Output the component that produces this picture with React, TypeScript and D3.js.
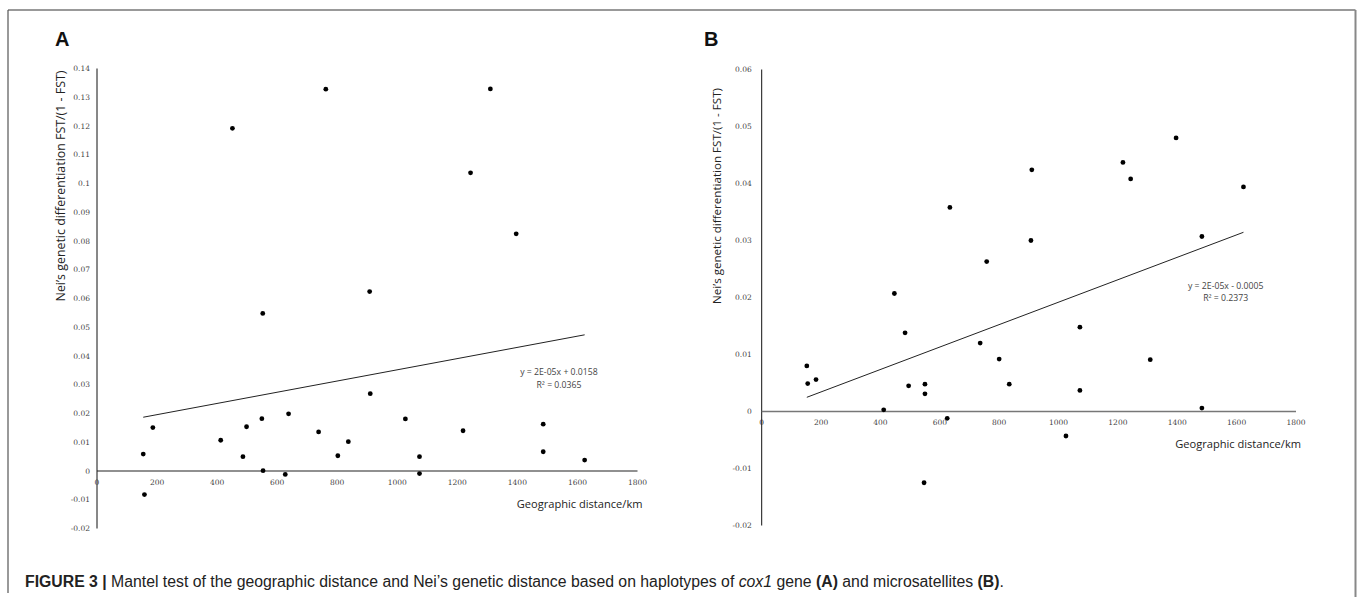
import React from "react";
import * as d3 from "d3";

// Panel A: cox1 haplotypes
const distA = [154, 158, 186, 412, 451, 486, 498, 549, 552, 553, 627, 638, 738, 762, 802, 837, 908, 910, 1027, 1074, 1074, 1219, 1244, 1310, 1396, 1486, 1486, 1624];
const fstA = [0.0059, -0.0082, 0.0151, 0.0107, 0.1192, 0.0050, 0.0154, 0.0182, 0.0548, 0.0001, -0.0012, 0.0199, 0.0136, 0.1328, 0.0053, 0.0102, 0.0624, 0.0269, 0.0181, 0.0050, -0.0009, 0.0140, 0.1037, 0.1329, 0.0825, 0.0163, 0.0067, 0.0038];
const trendA = { slope: 1.95e-5, intercept: 0.0157 };
const eqA = ["y = 2E-05x + 0.0158", "R² = 0.0365"];
const yTicksA = [0.14, 0.13, 0.12, 0.11, 0.1, 0.09, 0.08, 0.07, 0.06, 0.05, 0.04, 0.03, 0.02, 0.01, 0, -0.01, -0.02];

// Panel B: microsatellites
const distB = [152, 155, 183, 411, 447, 483, 495, 547, 550, 550, 625, 634, 736, 758, 800, 834, 907, 910, 1025, 1072, 1072, 1217, 1243, 1309, 1396, 1483, 1483, 1623];
const fstB = [0.0080, 0.0049, 0.0056, 0.0003, 0.0207, 0.0138, 0.0045, -0.0125, 0.0048, 0.0031, -0.0012, 0.0358, 0.0120, 0.0263, 0.0092, 0.0048, 0.0300, 0.0424, -0.0043, 0.0148, 0.0037, 0.0437, 0.0408, 0.0091, 0.0480, 0.0307, 0.0006, 0.0394];
const trendB = { slope: 1.968e-5, intercept: -0.0005 };
const eqB = ["y = 2E-05x - 0.0005", "R² = 0.2373"];
const yTicksB = [0.06, 0.05, 0.04, 0.03, 0.02, 0.01, 0, -0.01, -0.02];

const xTicks = [0, 200, 400, 600, 800, 1000, 1200, 1400, 1600, 1800];
const yLabel = "Nei’s genetic differentiation FST/(1 - FST)";
const xLabel = "Geographic distance/km";

type PanelProps = {
  letter: string;
  dist: number[];
  fst: number[];
  trend: { slope: number; intercept: number };
  eq: string[];
  yTicks: number[];
  xRange: [number, number];
  yRange: [number, number];
  yDomain: [number, number];
  letterX: number;
  yLabelX: number;
  yLabelY: number;
  yLabelSize: number;
  eqX: number;
  eqY: number;
  tickGap: number;
  xAxisColor: string;
  xAxisWidth: number;
};

function Panel(p: PanelProps) {
  const x = d3.scaleLinear().domain([0, 1800]).range(p.xRange);
  const y = d3.scaleLinear().domain(p.yDomain).range(p.yRange);
  const x0 = d3.min(p.dist) as number;
  const x1 = d3.max(p.dist) as number;
  const line = d3.line<number>()
    .x((d) => x(d))
    .y((d) => y(p.trend.slope * d + p.trend.intercept));
  const tickFont = "'DejaVu Serif', serif";
  const labFont = "'Open Sans', sans-serif";
  const fmt = (v: number) => String(+v.toFixed(2));
  return (
    <g>
      <text x={p.letterX} y={46} fontFamily="'Liberation Sans', Arial, sans-serif" fontWeight="bold" fontSize={20} fill="#111">{p.letter}</text>
      {p.yTicks.map((t) => (
        <text key={"y" + t} x={x(0) - p.tickGap} y={y(t)} dy="0.35em" textAnchor="end" fontFamily={tickFont} fontSize={7.5} fill="#444">{fmt(t)}</text>
      ))}
      {xTicks.map((t) => (
        <text key={"x" + t} x={x(t)} y={y(0) + 11} dy="0.35em" textAnchor="middle" fontFamily={tickFont} fontSize={7.5} fill="#444">{t}</text>
      ))}
      <line x1={x(0)} x2={x(0)} y1={y(p.yDomain[1])} y2={y(p.yDomain[0])} stroke="#111" strokeWidth={1} />
      <line x1={x(0)} x2={x(1800)} y1={y(0)} y2={y(0)} stroke={p.xAxisColor} strokeWidth={p.xAxisWidth} />
      <path d={line([x0, x1]) || ""} fill="none" stroke="#222" strokeWidth={1} />
      {p.dist.map((d, i) => (
        <circle key={i} cx={x(d)} cy={y(p.fst[i])} r={2.4} fill="#000" />
      ))}
      <text x={p.eqX} y={p.eqY} textAnchor="middle" fontFamily={labFont} fontSize={8.7} fill="#444">
        <tspan x={p.eqX} dy="0.35em">{p.eq[0]}</tspan>
        <tspan x={p.eqX} dy="12.3">{p.eq[1]}</tspan>
      </text>
      <text x={x(1800) + 5} y={y(0) + 33} dy="0.35em" textAnchor="end" fontFamily={labFont} fontSize={11.1} fill="#222">{xLabel}</text>
      <text transform={`translate(${p.yLabelX},${p.yLabelY}) rotate(-90)`} textAnchor="middle" dy="0.35em" fontFamily={labFont} fontSize={p.yLabelSize} fill="#222">{yLabel}</text>
    </g>
  );
}

export default function App() {
  return (
    <svg width={1360} height={597} style={{ position: "absolute", left: 0, top: 0, background: "#fff" }}>
      <rect x={0} y={0} width={1360} height={597} fill="#fff" />
      <line x1={8} x2={1355.5} y1={10} y2={10} stroke="#777" strokeWidth={1.5} />
      <line x1={8} x2={8} y1={10} y2={593} stroke="#555" strokeWidth={1.2} />
      <line x1={1355.5} x2={1355.5} y1={10} y2={597} stroke="#888" strokeWidth={2} />
      <Panel
        letter="A" dist={distA} fst={fstA} trend={trendA} eq={eqA} yTicks={yTicksA}
        xRange={[97, 637.5]} yRange={[528.5, 68.5]} yDomain={[-0.02, 0.14]}
        letterX={55} yLabelX={61} yLabelY={186} yLabelSize={12.4}
        eqX={559} eqY={372.3} tickGap={7} xAxisColor="#222" xAxisWidth={1.2}
      />
      <Panel
        letter="B" dist={distB} fst={fstB} trend={trendB} eq={eqB} yTicks={yTicksB}
        xRange={[761.7, 1296]} yRange={[525.5, 69.5]} yDomain={[-0.02, 0.06]}
        letterX={704} yLabelX={717} yLabelY={196} yLabelSize={11.6}
        eqX={1225.7} eqY={285.7} tickGap={10} xAxisColor="#777" xAxisWidth={1.6}
      />
      <text x={25} y={587} fontFamily="'Liberation Sans', Arial, sans-serif" fontSize={15.8} fill="#222">
        <tspan fontWeight="bold">FIGURE 3 | </tspan>
        <tspan>Mantel test of the geographic distance and Nei’s genetic distance based on haplotypes of </tspan>
        <tspan fontStyle="italic">cox1</tspan>
        <tspan> gene </tspan>
        <tspan fontWeight="bold">(A)</tspan>
        <tspan> and microsatellites </tspan>
        <tspan fontWeight="bold">(B)</tspan>
        <tspan>.</tspan>
      </text>
    </svg>
  );
}
